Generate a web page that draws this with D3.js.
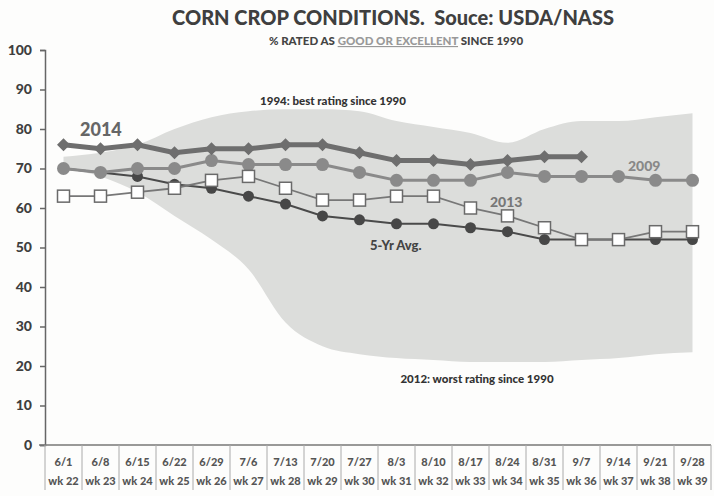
<!DOCTYPE html>
<html>
<head>
<meta charset="utf-8">
<script src="https://cdn.jsdelivr.net/npm/d3@7"></script>
<style>
  body { margin: 0; background: #fdfdfc; }
  text { font-family: Lato, "Open Sans", sans-serif; font-weight: 900; }
</style>
</head>
<body>
<svg></svg>
<script>
// Week labels
let dates = ['6/1', '6/8', '6/15', '6/22', '6/29', '7/6', '7/13', '7/20', '7/27',
  '8/3', '8/10', '8/17', '8/24', '8/31', '9/7', '9/14', '9/21', '9/28'];
let weeks = ['wk 22', 'wk 23', 'wk 24', 'wk 25', 'wk 26', 'wk 27', 'wk 28', 'wk 29', 'wk 30',
  'wk 31', 'wk 32', 'wk 33', 'wk 34', 'wk 35', 'wk 36', 'wk 37', 'wk 38', 'wk 39'];

// % good or excellent
let y2014 = [76, 75, 76, 74, 75, 75, 76, 76, 74, 72, 72, 71, 72, 73, 73];
let y2009 = [70, 69, 70, 70, 72, 71, 71, 71, 69, 67, 67, 67, 69, 68, 68, 68, 67, 67];
let y2013 = [63, 63, 64, 65, 67, 68, 65, 62, 62, 63, 63, 60, 58, 55, 52, 52, 54, 54];
let avg5 = [70, 69, 68, 66, 65, 63, 61, 58, 57, 56, 56, 55, 54, 52, 52, 52, 52, 52];

// Range since 1990
let bandHigh = [73, 74, 76, 80, 83, 84.5, 85, 85, 84.5, 82, 80.5, 79, 76.5, 80, 82, 82, 83, 84];
let bandLow = [70, 68, 64, 58, 52, 44.5, 31, 25, 23, 22, 21.5, 21, 21, 21, 21.5, 22, 23, 23.5];

let yTicks = [0, 10, 20, 30, 40, 50, 60, 70, 80, 90, 100];

let svgWidth = 714;
let svgHeight = 496;

let margin = { top: 50, right: 3, bottom: 51, left: 45 };
let width = svgWidth - margin.left - margin.right;
let height = svgHeight - margin.top - margin.bottom;

let root = d3.select('svg')
  .attr('width', svgWidth)
  .attr('height', svgHeight);

let svg = root.append('g')
  .attr('transform', 'translate(' + margin.left + ', ' + margin.top + ')');

let xScale = d3.scaleBand()
  .domain(dates)
  .range([0, width]);

let yScale = d3.scaleLinear()
  .domain([0, 100])
  .range([height, 0]);

let cx = (d, i) => xScale(dates[i]) + xScale.bandwidth() / 2;

// Shaded range
let area = d3.area()
  .x((d, i) => cx(d, i))
  .y0((d, i) => yScale(bandLow[i]))
  .y1(d => yScale(d))
  .curve(d3.curveMonotoneX);

svg.append('path')
  .datum(bandHigh)
  .attr('d', area)
  .attr('fill', '#dcdddb');

// Y axis
let yAxis = d3.axisLeft(yScale)
  .tickValues(yTicks)
  .tickSize(5)
  .tickPadding(8);

svg.append('g')
  .attr('class', 'axis')
  .call(yAxis)
  .call(g => g.selectAll('path, line').attr('stroke', '#666').attr('stroke-width', 1.5))
  .call(g => g.selectAll('text')
    .attr('fill', '#3f3f3f')
    .attr('font-size', '14px')
    .attr('font-family', 'Lato, sans-serif'));

// X axis line and table
svg.append('line')
  .attr('x1', -6).attr('x2', width)
  .attr('y1', height).attr('y2', height)
  .attr('stroke', '#777').attr('stroke-width', 1.5);

let table = svg.append('g')
  .attr('transform', 'translate(0, ' + height + ')');

table.selectAll('.sep')
  .data(dates.concat(['end']))
  .enter()
  .append('line')
  .attr('class', 'sep')
  .attr('x1', (d, i) => i * xScale.bandwidth())
  .attr('x2', (d, i) => i * xScale.bandwidth())
  .attr('y1', 0)
  .attr('y2', 45)
  .attr('stroke', '#aaa')
  .attr('stroke-width', 1);

table.selectAll('.date')
  .data(dates)
  .enter()
  .append('text')
  .attr('x', (d, i) => cx(d, i))
  .attr('y', 21)
  .attr('text-anchor', 'middle')
  .attr('font-size', '11px')
  .attr('fill', '#555')
  .text(d => d);

table.selectAll('.wk')
  .data(weeks)
  .enter()
  .append('text')
  .attr('x', (d, i) => cx(d, i))
  .attr('y', 40)
  .attr('text-anchor', 'middle')
  .attr('font-size', '11px')
  .attr('fill', '#555')
  .text(d => d);

let line = d3.line()
  .x((d, i) => cx(d, i))
  .y(d => yScale(d));

// 5-yr average
svg.append('path')
  .datum(avg5)
  .attr('d', line)
  .attr('fill', 'none')
  .attr('stroke', '#4a4a4a')
  .attr('stroke-width', 2);

svg.selectAll('.avg5')
  .data(avg5)
  .enter()
  .append('circle')
  .attr('cx', cx)
  .attr('cy', d => yScale(d))
  .attr('r', 5.5)
  .attr('fill', '#474747');

// 2009
svg.append('path')
  .datum(y2009)
  .attr('d', line)
  .attr('fill', 'none')
  .attr('stroke', '#8a8a8a')
  .attr('stroke-width', 3);

svg.selectAll('.y2009')
  .data(y2009)
  .enter()
  .append('circle')
  .attr('cx', cx)
  .attr('cy', d => yScale(d))
  .attr('r', 6.5)
  .attr('fill', '#8a8a8a');

// 2013
svg.append('path')
  .datum(y2013)
  .attr('d', line)
  .attr('fill', 'none')
  .attr('stroke', '#777')
  .attr('stroke-width', 1.8);

svg.selectAll('.y2013')
  .data(y2013)
  .enter()
  .append('rect')
  .attr('x', (d, i) => cx(d, i) - 6)
  .attr('y', d => yScale(d) - 6)
  .attr('width', 12)
  .attr('height', 12)
  .attr('fill', '#fff')
  .attr('stroke', '#6a6a6a')
  .attr('stroke-width', 1.5);

// 2014
svg.append('path')
  .datum(y2014)
  .attr('d', line)
  .attr('fill', 'none')
  .attr('stroke', '#6e6e6e')
  .attr('stroke-width', 5);

svg.selectAll('.y2014')
  .data(y2014)
  .enter()
  .append('path')
  .attr('transform', (d, i) => 'translate(' + cx(d, i) + ', ' + yScale(d) + ') rotate(45)')
  .attr('d', d3.symbol().type(d3.symbolSquare).size(85))
  .attr('fill', '#6e6e6e');

// Labels
let labels = [
  { text: '2014', x: 35, y: 86, size: 18, color: '#666', anchor: 'start' },
  { text: '1994: best rating since 1990', x: 288, y: 55, size: 11.5, color: '#333', anchor: 'middle' },
  { text: '2009', x: 583, y: 121, size: 14, color: '#888', anchor: 'start' },
  { text: '2013', x: 445, y: 157, size: 14, color: '#777', anchor: 'start' },
  { text: '5-Yr Avg.', x: 325, y: 200, size: 13, color: '#444', anchor: 'start' },
  { text: '2012: worst rating since 1990', x: 432, y: 333, size: 11.5, color: '#333', anchor: 'middle' }
];

svg.selectAll('.label')
  .data(labels)
  .enter()
  .append('text')
  .attr('x', d => d.x)
  .attr('y', d => d.y)
  .attr('text-anchor', d => d.anchor)
  .attr('font-size', d => d.size + 'px')
  .attr('fill', d => d.color)
  .text(d => d.text);

// Title
root.append('text')
  .attr('x', 393)
  .attr('y', 25)
  .attr('text-anchor', 'middle')
  .attr('font-size', '20px')
  .attr('fill', '#3f3f3f')
  .attr('xml:space', 'preserve')
  .text('CORN CROP CONDITIONS.  Souce: USDA/NASS');

let sub = root.append('text')
  .attr('x', 396)
  .attr('y', 45)
  .attr('text-anchor', 'middle')
  .attr('font-size', '11.5px')
  .attr('fill', '#444');
sub.append('tspan').text('% RATED AS ');
sub.append('tspan').attr('fill', '#999').attr('text-decoration', 'underline').text('GOOD OR EXCELLENT');
sub.append('tspan').text(' SINCE 1990');
</script>
</body>
</html>
